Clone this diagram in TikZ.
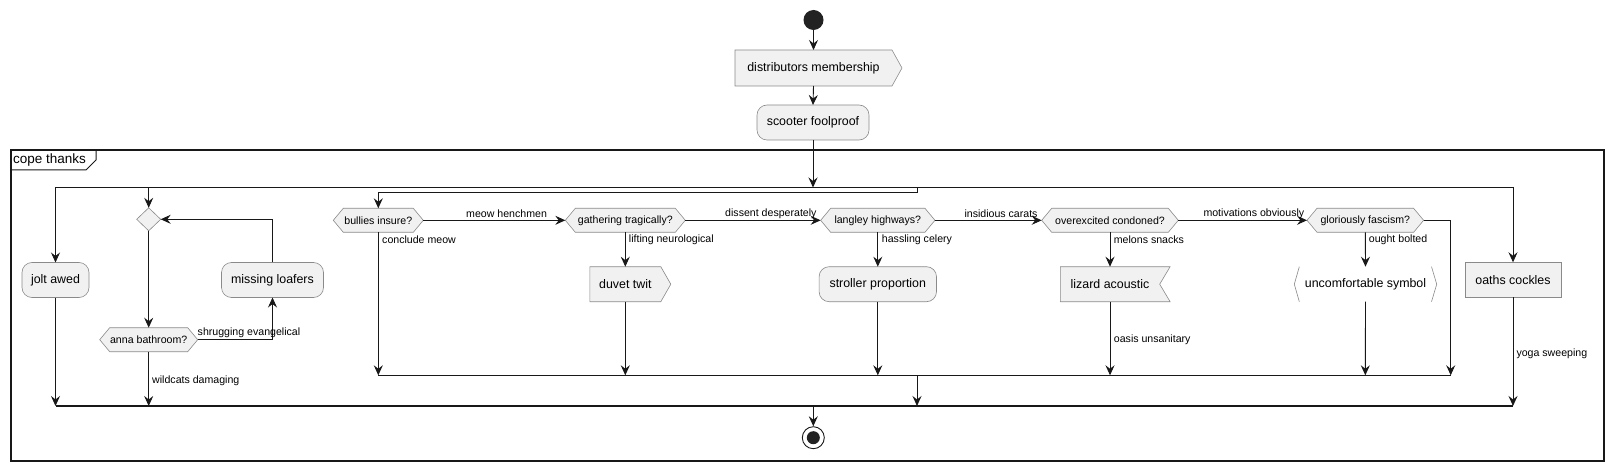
\documentclass[tikz,border=0pt]{standalone}
\usepackage{fontspec}
\setmainfont{Liberation Sans}
\usetikzlibrary{arrows.meta}
\definecolor{boxc}{HTML}{F1F1F1}
\definecolor{bordc}{HTML}{8A8A8A}
\definecolor{linec}{HTML}{181818}
\definecolor{startc}{HTML}{222222}
\newcommand\fAct{\fontsize{12.4}{14}\selectfont}
\newcommand\fDec{\fontsize{10.6}{12}\selectfont}
\newcommand\fLbl{\fontsize{10.6}{12}\selectfont}
\newcommand\fFrm{\fontsize{13.5}{15}\selectfont}
\tikzset{
  shp/.style={draw=bordc, fill=boxc, line width=0.6pt},
  txt/.style={inner sep=0pt, outer sep=0pt},
  actbox/.style={shp, txt, font=\fAct, minimum height=35pt},
  rbox/.style={actbox, rounded corners=10pt},
  lbl/.style={anchor=west, inner sep=0pt, font=\fLbl},
  flow/.style={draw=linec, line width=0.9pt},
  arr/.style={flow, -{Stealth[length=10pt,width=9pt,inset=3.5pt]}},
  bar/.style={draw=linec, line width=1.5pt},
}
% hexagon decision: name, cx, cy, width, text
\newcommand\hexnode[5]{%
  \draw[shp] ({#2-#4/2},#3) -- ({#2-#4/2+10},{#3-12}) -- ({#2+#4/2-10},{#3-12}) -- ({#2+#4/2},#3) -- ({#2+#4/2-10},{#3+12}) -- ({#2-#4/2+10},{#3+12}) -- cycle;
  \node[txt, font=\fDec, minimum width=#4pt, minimum height=24pt] (#1) at (#2,#3) {#5};}
% send shape: name, cx, cy, width (rect part), height, tip, text
\newcommand\sendnode[7]{%
  \draw[shp] ({#2-#4/2},{#3-#5/2}) -- ({#2+#4/2},{#3-#5/2}) -- ({#2+#4/2+#6},#3) -- ({#2+#4/2},{#3+#5/2}) -- ({#2-#4/2},{#3+#5/2}) -- cycle;
  \node[txt, font=\fAct, minimum width=#4pt, minimum height=#5pt] (#1) at (#2,#3) {#7};}
% receive shape: name, cx, cy, width (to notch), height, depth, text
\newcommand\recvnode[7]{%
  \draw[shp] ({#2-#4/2},{#3-#5/2}) -- ({#2+#4/2+#6},{#3-#5/2}) -- ({#2+#4/2},#3) -- ({#2+#4/2+#6},{#3+#5/2}) -- ({#2-#4/2},{#3+#5/2}) -- cycle;
  \node[txt, font=\fAct, minimum width=#4pt, minimum height=#5pt] (#1) at (#2,#3) {#7};}
\begin{document}
\begin{tikzpicture}[x=1pt,y=-1pt]
\useasboundingbox (0,0) rectangle (1613,470);
% frame
\draw[linec, line width=1.3pt] (11,150) rectangle (1604,461);
\draw[linec, line width=1pt] (11,170) -- (86,170) -- (96,160) -- (96,150);
\node[anchor=west, inner sep=0pt, font=\fFrm] (frm) at (13,160) {cope thanks};
% top
\node[circle, fill=startc, minimum size=20pt, inner sep=0pt] (start) at (813.5,20) {};
\sendnode{dm}{813.5}{68}{157}{36}{10}{distributors membership}
\node[rbox, minimum width=112pt] (sf) at (813,122.5) {scooter foolproof};
\draw[arr] (start) -- (dm.north);
\draw[arr] (dm.south) -- (sf.north);
% outer fork
\coordinate (fL) at (55.5,187.5);
\coordinate (fR) at (1513,187.5);
\coordinate (fM) at (813,187.5);
\coordinate (fB) at (148.7,187.5);
\coordinate (fC) at (917,187.5);
\draw[bar] (fL) -- (fR);
\draw[arr] (sf.south) -- (fM);
% outer join
\coordinate (jL) at (55.5,406);
\coordinate (jR) at (1513,406);
\coordinate (jB) at (148.7,406);
\coordinate (jC) at (917,406);
\coordinate (jM) at (813.3,406);
\draw[bar] (jL) -- (jR);
% branch 1
\node[rbox, minimum width=67pt] (jolt) at (55.5,280) {jolt awed};
\draw[arr] (fL) -- (jolt.north);
\draw[arr] (jolt.south) -- (jL);
% branch 2: repeat loop
\draw[shp] (136.7,219.3) -- (148.7,207.8) -- (160.7,219.3) -- (148.7,230.8) -- cycle;
\node[txt, minimum width=24pt, minimum height=23pt] (d1) at (148.7,219.3) {};
\hexnode{anna}{148.7}{339.7}{98}{anna bathroom?}
\node[rbox, minimum width=102pt] (loaf) at (272.5,280) {missing loafers};
\draw[arr] (fB) -- (d1.north);
\draw[arr] (d1.south) -- (anna.north);
\draw[arr] (anna.east) -| (loaf.south);
\node[lbl] (l1) at (197.5,333) {shrugging evangelical};
\draw[arr] (loaf.north) |- (d1.east);
\draw[arr] (anna.south) -- (jB);
\node[lbl] (l2) at (152,381) {wildcats damaging};
% branch 3: chain of decisions
\coordinate (iT) at (917,192);
\coordinate (iL) at (378.3,192);
\draw[flow] (fC) -- (iT) -- (iL);
\hexnode{bul}{378.3}{220.3}{90}{bullies insure?}
\hexnode{gat}{625.3}{220.3}{120}{gathering tragically?}
\hexnode{lan}{877.8}{220.3}{114.3}{langley highways?}
\hexnode{ove}{1110}{220.3}{136.6}{overexcited condoned?}
\hexnode{glo}{1365.3}{220.3}{116.6}{gloriously fascism?}
\draw[arr] (iL) -- (bul.north);
% inner join
\coordinate (k1) at (378.3,375.3);
\coordinate (k2) at (625.3,375.3);
\coordinate (k3) at (877.8,375.3);
\coordinate (k4) at (1110,375.3);
\coordinate (k5) at (1365.3,375.3);
\coordinate (k6) at (1450.7,375.3);
\coordinate (kC) at (917,375.3);
\draw[flow] (k1) -- (k6);
\draw[arr] (kC) -- (jC);
% bullies
\draw[arr] (bul.south) -- (k1);
\node[lbl] (l3) at (382,240) {conclude meow};
\draw[arr] (bul.east) -- (gat.west);
\node[lbl] (l4) at (466,214) {meow henchmen};
% gathering
\sendnode{duv}{625.3}{284.2}{71}{35}{10}{duvet twit}
\draw[arr] (gat.south) -- (duv.north);
\node[lbl] (l5) at (628.7,240) {lifting neurological};
\draw[arr] (duv.south) -- (k2);
\draw[arr] (gat.east) -- (lan.west);
\node[lbl] (l6) at (725,214) {dissent desperately};
% langley
\node[rbox, minimum width=117.4pt] (str) at (877.8,284.2) {stroller proportion};
\draw[arr] (lan.south) -- (str.north);
\node[lbl] (l7) at (881.7,240) {hassling celery};
\draw[arr] (str.south) -- (k3);
\draw[arr] (lan.east) -- (ove.west);
\node[lbl] (l8) at (964.3,214) {insidious carats};
% overexcited
\recvnode{liz}{1110}{284.2}{99.4}{35}{10.4}{lizard acoustic}
\draw[arr] (ove.south) -- (liz.north);
\node[lbl] (l9) at (1113.7,240) {melons snacks};
\draw[arr] (liz.south) -- (k4);
\node[lbl] (l10) at (1113.7,339.3) {oasis unsanitary};
\draw[arr] (ove.east) -- (glo.west);
\node[lbl] (l11) at (1203.3,214) {motivations obviously};
% gloriously
\node[txt, font=\fAct, minimum width=132pt, minimum height=35pt] (unc) at (1365.5,284.2) {uncomfortable symbol};
\draw[draw=bordc, line width=0.6pt] (1299.3,266.7) -- (1294.3,284.2) -- (1299.3,301.7);
\draw[draw=bordc, line width=0.6pt] (1431.5,266.7) -- (1436.7,284.2) -- (1431.5,301.7);
\draw[arr] (glo.south) -- (unc.north);
\node[lbl] (l12) at (1368.7,240) {ought bolted};
\draw[arr] (unc.south) -- (k5);
\draw[arr] (glo.east) -| (k6);
% branch 4
\node[actbox, minimum width=96pt] (oat) at (1513,279.8) {oaths cockles};
\draw[arr] (fR) -- (oat.north);
\draw[arr] (oat.south) -- (jR);
\node[lbl] (l13) at (1516.3,354) {yoga sweeping};
% end
\node[circle, draw=linec, fill=white, line width=0.9pt, minimum size=22pt, inner sep=0pt] (stop) at (813.3,437.7) {};
\fill[startc] (stop.center) circle (6.5);
\draw[arr] (jM) -- (stop.north);
\end{tikzpicture}
\end{document}
